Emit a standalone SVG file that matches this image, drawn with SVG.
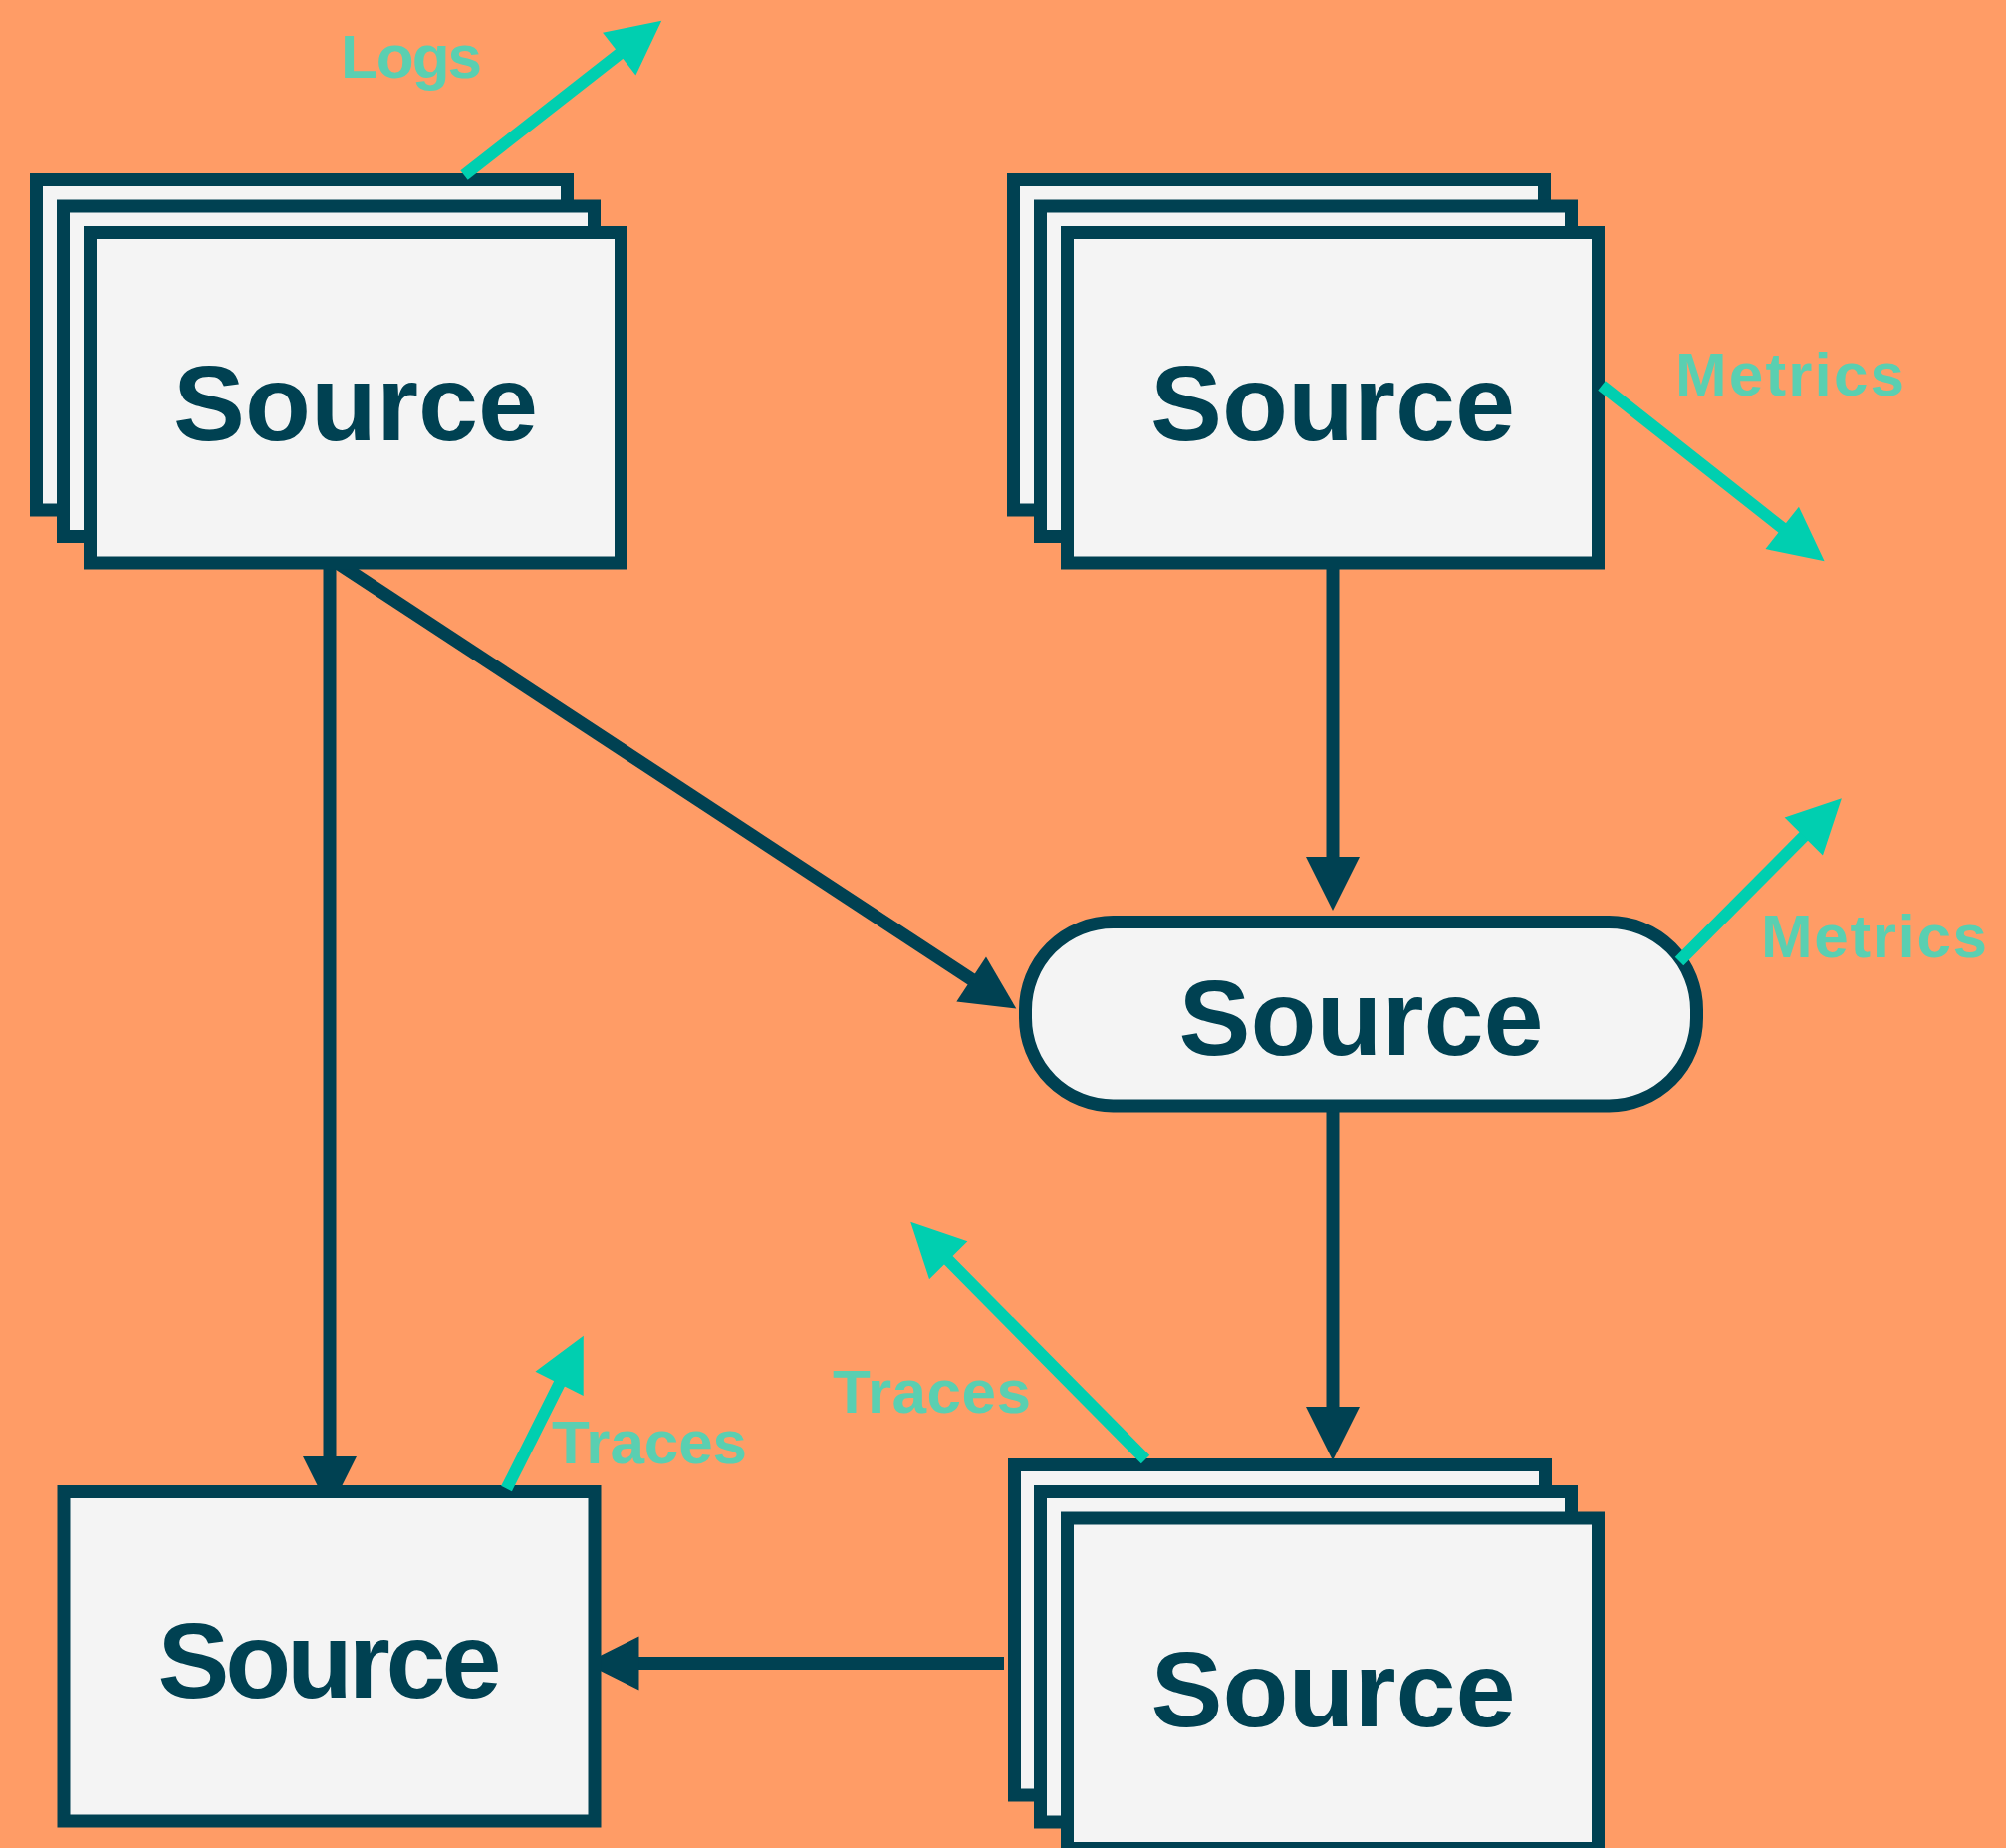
<svg xmlns="http://www.w3.org/2000/svg" width="2014" height="1855" viewBox="0 0 2014 1855">
<style>
.card{fill:#F4F4F4;stroke:#004152;stroke-width:13}
.lbl{font-family:"Liberation Sans",Arial,sans-serif;font-weight:700;font-size:108px;fill:#004152;text-anchor:middle}
.out{font-family:"Liberation Sans",Arial,sans-serif;font-weight:700;font-size:62px;fill:#5ACFB1}
.edge{fill:none;stroke:#004152;stroke-width:13;marker-end:url(#ah)}
.teal{fill:none;stroke:#00CFB0;stroke-width:12;marker-end:url(#aht)}
</style>
<defs>
<marker id="ah" markerUnits="userSpaceOnUse" markerWidth="60" markerHeight="60" viewBox="0 -30 60 60" refX="1" refY="0" orient="auto" overflow="visible"><path d="M0,-27 L54,0 L0,27 Z" fill="#004152"/></marker>
<marker id="aht" markerUnits="userSpaceOnUse" markerWidth="60" markerHeight="60" viewBox="0 -30 60 60" refX="1" refY="0" orient="auto" overflow="visible"><path d="M0,-27 L54,0 L0,27 Z" fill="#00CFB0"/></marker>
</defs>
<rect width="2014" height="1855" fill="#FF9C66"/>
<g id="connectors">
<line class="edge" x1="331" y1="560" x2="331" y2="1463"/>
<line class="edge" x1="331" y1="560" x2="976" y2="983.5"/>
<line class="edge" x1="1338" y1="560" x2="1338" y2="861"/>
<line class="edge" x1="1338" y1="1105" x2="1338" y2="1413"/>
<line class="edge" x1="1008" y1="1669.5" x2="640.5" y2="1669.5"/>
</g>
<g id="node-top-left">
<rect class="card" x="36.5" y="180.5" width="533" height="331.5"/>
<rect class="card" x="63.5" y="207" width="533" height="331.5"/>
<rect class="card" x="90.5" y="233.5" width="533" height="331.5"/>
<text class="lbl" x="357" y="442">Source</text>
</g>
<g id="node-top-right">
<rect class="card" x="1017.5" y="180.5" width="533" height="331.5"/>
<rect class="card" x="1044.5" y="207" width="533" height="331.5"/>
<rect class="card" x="1071.5" y="233.5" width="533" height="331.5"/>
<text class="lbl" x="1338" y="442">Source</text>
</g>
<g id="node-middle">
<rect class="card" x="1029.5" y="925.5" width="674" height="184.5" rx="88" ry="88"/>
<text class="lbl" x="1366.5" y="1059">Source</text>
</g>
<g id="node-bottom-left">
<rect class="card" x="64" y="1497.5" width="533" height="330.5"/>
<text class="lbl" x="331" y="1704" textLength="345">Source</text>
</g>
<g id="node-bottom-right">
<rect class="card" x="1018.5" y="1470.5" width="533" height="331.5"/>
<rect class="card" x="1044.5" y="1497.5" width="533" height="331.5"/>
<rect class="card" x="1071.5" y="1524" width="533" height="331.5"/>
<text class="lbl" x="1338.5" y="1733">Source</text>
</g>
<g id="outputs">
<line class="teal" x1="466" y1="176" x2="622.5" y2="53.5"/>
<line class="teal" x1="1608" y1="387" x2="1790" y2="530.5"/>
<line class="teal" x1="1686" y1="965" x2="1811.5" y2="838.8"/>
<line class="teal" x1="508.5" y1="1494.5" x2="562" y2="1388"/>
<line class="teal" x1="1150" y1="1465" x2="951.5" y2="1264.5"/>
</g>
<g id="labels">
<text class="out" x="342" y="78" textLength="142">Logs</text>
<text class="out" x="1682" y="397" textLength="230">Metrics</text>
<text class="out" x="1768" y="961" textLength="227">Metrics</text>
<text class="out" x="554" y="1469" textLength="196">Traces</text>
<text class="out" x="836" y="1418" textLength="199">Traces</text>
</g>
</svg>
